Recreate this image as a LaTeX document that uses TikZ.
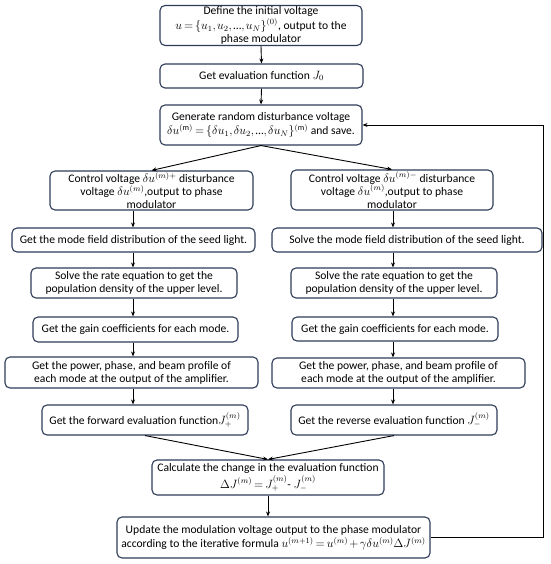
\documentclass[tikz,border=0pt]{standalone}
\usepackage{fontspec}
\setmainfont{Carlito}
\usetikzlibrary{arrows.meta}
\definecolor{boxc}{HTML}{2F3C58}
\newcommand{\tightmath}{\thickmuskip=3mu plus 1mu\medmuskip=2mu plus 1mu\thinmuskip=2mu}
\begin{document}
\begin{tikzpicture}[x=1pt,y=-1pt,
  box/.style={draw=boxc, line width=1.1pt, rounded corners=5pt, align=center,
    inner xsep=1pt, inner ysep=0pt, fill=white,
    font=\fontsize{11.6}{13}\selectfont\tightmath},
  tall/.style={inner ysep=-3pt},
  arr/.style={draw=black, line width=0.9pt, -{Stealth[length=5pt,width=4pt]}}]
\useasboundingbox[fill=white] (0,0) rectangle (550,564);
\coordinate (xL) at (133,0);
\coordinate (xR) at (393,0);
\coordinate (fb) at (543,0);

\node[box, tall, minimum width=202pt, minimum height=40pt] (B1) at (261,25.5)
  {Define the initial voltage\\[1.5pt] $u=\{u_1,u_2,\mbox{…},u_N\}^{(0)}$, output to the\\ phase modulator};
\node[box, minimum width=203pt, minimum height=24pt] (B2) at (261.5,76)
  {Get evaluation function $J_0$};
\node[box, minimum width=202pt, minimum height=40pt] (B3) at (261,125)
  {Generate random disturbance voltage\\[1pt] $\delta u^{(\mathrm{m})}=\{\delta u_1,\delta u_2,\mbox{…},\delta u_N\}^{(\mathrm{m})}$ and save.};

\node[box, tall, minimum width=203pt, minimum height=39pt] (L4) at (151.5,190.5)
  {Control voltage $\delta u^{(m)+}$ disturbance\\ voltage $\delta u^{(m)}$,output to phase\\ modulator};
\node[box, minimum width=243pt, minimum height=24pt] (L5) at (133.5,240)
  {Get the mode field distribution of the seed light.};
\node[box, minimum width=206pt, minimum height=30pt] (L6) at (134,283)
  {Solve the rate equation to get the\\ population density of the upper level.};
\node[box, minimum width=205pt, minimum height=25pt] (L7) at (135.5,329.5)
  {Get the gain coefficients for each mode.};
\node[box, minimum width=253pt, minimum height=31pt] (L8) at (131.5,372.5)
  {Get the power, phase, and beam profile of\\ each mode at the output of the amplifier.};
\node[box, minimum width=206pt, minimum height=30pt] (L9) at (145,420)
  {Get the forward evaluation function$J_+^{(m)}$};

\node[box, tall, minimum width=202pt, minimum height=40pt] (R4) at (392,190)
  {Control voltage $\delta u^{(m)-}$ disturbance\\ voltage $\delta u^{(m)}$,output to phase\\ modulator};
\node[box, minimum width=270pt, minimum height=24pt] (R5) at (407,240)
  {Solve the mode field distribution of the seed light.};
\node[box, minimum width=206pt, minimum height=30pt] (R6) at (394,283)
  {Solve the rate equation to get the\\ population density of the upper level.};
\node[box, minimum width=206pt, minimum height=24pt] (R7) at (395,329)
  {Get the gain coefficients for each mode.};
\node[box, minimum width=253pt, minimum height=30pt] (R8) at (398.5,373)
  {Get the power, phase, and beam profile of\\ each mode at the output of the amplifier.};
\node[box, minimum width=206pt, minimum height=30pt] (R9) at (394,420)
  {Get the reverse evaluation function $J_{-}^{(m)}$};

\node[box, minimum width=232pt, minimum height=35pt] (B10) at (268,477.5)
  {Calculate the change in the evaluation function\\[1pt] $\Delta J^{(m)}=J_+^{(m)}$- $J_{-}^{(m)}$};
\node[box, minimum width=313pt, minimum height=41pt] (B11) at (273.5,537.5)
  {Update the modulation voltage output to the phase modulator\\[1pt] according to the iterative formula $u^{(m+1)}=u^{(m)}+\gamma\delta u^{(m)}\Delta J^{(m)}$};

\draw[arr] (B1.south) -- (B2.north);
\draw[arr] (B2.south) -- (B3.north);
\draw[arr] (B3.south) -- (L4.north);
\draw[arr] (B3.south) -- (R4.north);
\draw[arr] (L4.south -| xL) -- (L5.north -| xL);
\draw[arr] (L5.south -| xL) -- (L6.north -| xL);
\draw[arr] (L6.south -| xL) -- (L7.north -| xL);
\draw[arr] (L7.south -| xL) -- (L8.north -| xL);
\draw[arr] (L8.south -| xL) -- (L9.north -| xL);
\draw[arr] (R4.south -| xR) -- (R5.north -| xR);
\draw[arr] (R5.south -| xR) -- (R6.north -| xR);
\draw[arr] (R6.south -| xR) -- (R7.north -| xR);
\draw[arr] (R7.south -| xR) -- (R8.north -| xR);
\draw[arr] (R8.south -| xR) -- (R9.north -| xR);
\draw[arr] (L9.south) -- (B10.north);
\draw[arr] (R9.south) -- (B10.north);
\draw[arr] (B10.south) -- (B10.south |- B11.north);
\draw[arr] (B11.east) -- (B11.east -| fb) |- (B3.east);
\end{tikzpicture}
\end{document}
